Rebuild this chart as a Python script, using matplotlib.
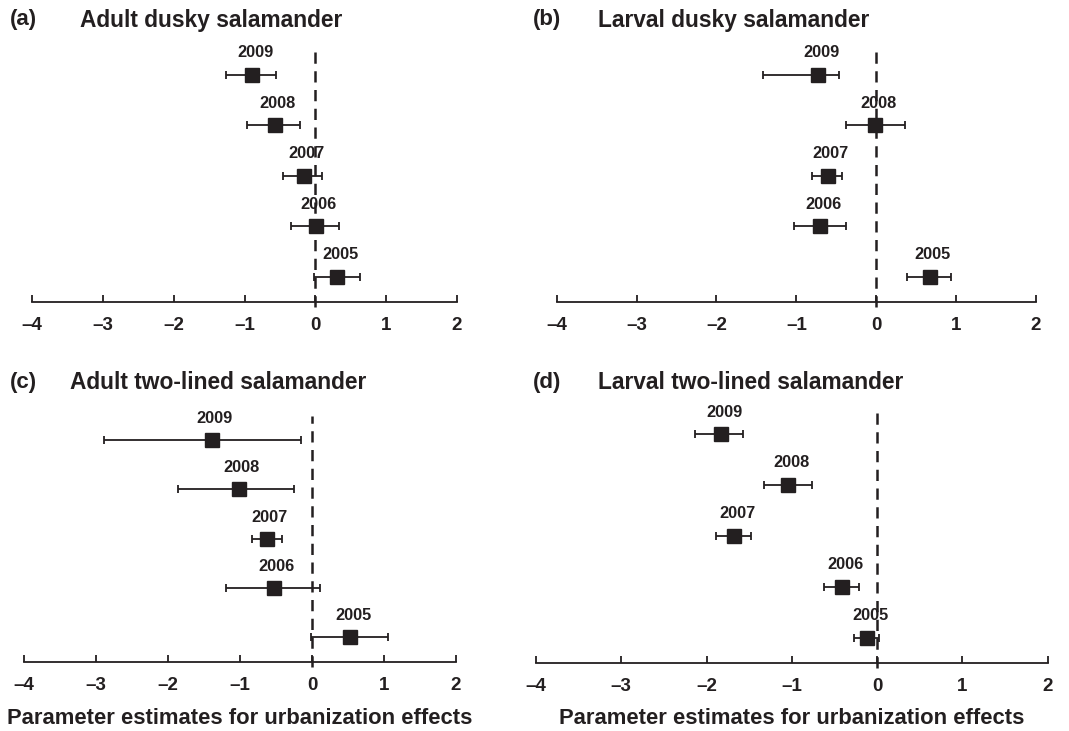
import numpy as np
import matplotlib
matplotlib.use('Agg')
import matplotlib.pyplot as plt

plt.rcParams['font.family'] = ['Liberation Sans', 'DejaVu Sans']
plt.rcParams['font.weight'] = 'bold'
plt.rcParams['axes.unicode_minus'] = True

years = ['2009', '2008', '2007', '2006', '2005']

# estimates, lower and upper limits (rows top to bottom: 2009 -> 2005)
a_est = [-0.89, -0.57, -0.16, 0.01, 0.31]
a_lo = [-1.26, -0.96, -0.46, -0.34, -0.02]
a_hi = [-0.56, -0.22, 0.10, 0.33, 0.63]

b_est = [-0.73, -0.01, -0.61, -0.70, 0.67]
b_lo = [-1.42, -0.38, -0.81, -1.03, 0.38]
b_hi = [-0.46, 0.36, -0.43, -0.38, 0.93]

c_est = [-1.39, -1.02, -0.63, -0.53, 0.53]
c_lo = [-2.89, -1.86, -0.83, -1.20, -0.02]
c_hi = [-0.15, -0.25, -0.42, 0.11, 1.05]

d_est = [-1.83, -1.04, -1.68, -0.41, -0.12]
d_lo = [-2.14, -1.33, -1.89, -0.62, -0.27]
d_hi = [-1.57, -0.76, -1.48, -0.21, 0.02]

titles = ['Adult dusky salamander', 'Larval dusky salamander',
          'Adult two-lined salamander', 'Larval two-lined salamander']
letters = ['(a)', '(b)', '(c)', '(d)']
xticks = [-4, -3, -2, -1, 0, 1, 2]

W, H = 1069, 731
fig = plt.figure(figsize=(W / 100, H / 100), dpi=100, facecolor='white')

# pixel boxes: left, right, axis-line y, row spacing
boxes = [(32, 457, 302, 50.5), (556.7, 1036, 302, 50.5),
         (24, 456, 662, 49.3), (536, 1047.7, 663, 50.8)]
title_y = [20, 20, 383, 383]
letter_x = [10, 533, 10, 533]
title_x = [80, 598, 70, 598]
data = [(a_est, a_lo, a_hi), (b_est, b_lo, b_hi),
        (c_est, c_lo, c_hi), (d_est, d_lo, d_hi)]

col = '#231f20'
ytop = 5.6
for i in range(4):
    l, r, yb, sp = boxes[i]
    ax = fig.add_axes([l / W, 1 - yb / H, (r - l) / W, ytop * sp / H])
    est, lo, hi = [np.array(v) for v in data[i]]
    ypos = np.arange(5, 0, -1) - 0.5
    ax.plot([0, 0], [-0.1, 5.0], color=col, lw=1.8, ls=(0, (4.5, 3)),
            clip_on=False, zorder=1)
    ax.errorbar(est, ypos, xerr=[est - lo, hi - est], fmt='s', color=col,
                ms=9.5, elinewidth=1.3, capsize=3, capthick=1.3, zorder=3)
    for x, y, t in zip(est, ypos, years):
        ax.text(x + 0.04, y + 0.44, t, ha='center', va='center',
                fontsize=11.8, fontweight='bold', color=col)
    ax.set_xlim(-4, 2)
    ax.set_ylim(0, ytop)
    ax.set_xticks(xticks)
    ax.set_xticklabels(['\u2013' + str(-v) if v < 0 else str(v) for v in xticks],
                       fontsize=13.5, fontweight='bold', color=col)
    ax.tick_params(axis='x', direction='in', length=5, width=1.3,
                   color=col, pad=11)
    ax.set_yticks([])
    for s in ['top', 'right', 'left']:
        ax.spines[s].set_visible(False)
    ax.spines['bottom'].set_linewidth(1.3)
    ax.spines['bottom'].set_color(col)
    ax.patch.set_alpha(0)
    fig.text(letter_x[i] / W, 1 - title_y[i] / H, letters[i], ha='left',
             va='center', fontsize=16, fontweight='bold', color=col)
    fig.text(title_x[i] / W, 1 - title_y[i] / H, titles[i], ha='left',
             va='center', fontsize=16.4, fontweight='bold', color=col)
    if i >= 2:
        fig.text((l + r) / 2 / W, 1 - 718 / H,
                 'Parameter estimates for urbanization effects',
                 ha='center', va='center', fontsize=15.8, fontweight='bold',
                 color=col)

plt.savefig('out.png', dpi=100, facecolor='white')
